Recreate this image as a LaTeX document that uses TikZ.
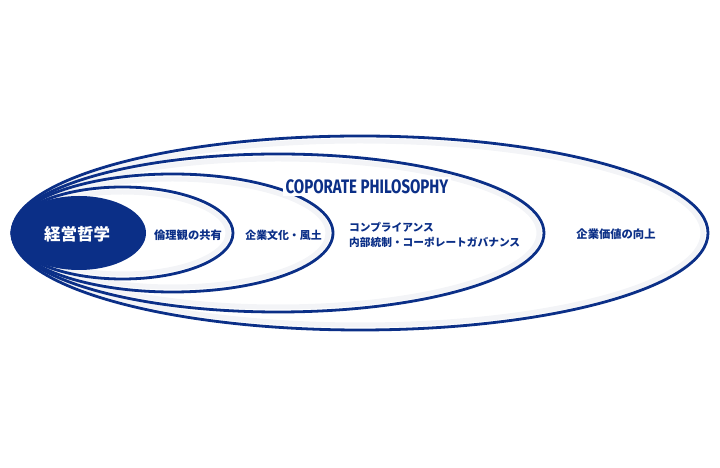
\documentclass[tikz,border=0pt]{standalone}
\usepackage{fontspec}
\newfontfamily\jp{Noto Sans CJK JP}
\newfontfamily\titlefont[FakeStretch=0.77]{Fira Sans}
\usetikzlibrary{calc}
\definecolor{navy}{HTML}{0B2F87}
\definecolor{halo}{HTML}{F3F4F7}
\tikzset{
	ring/.style={draw=navy,line width=2.8pt},
	ringhalo/.style={draw=halo,line width=5pt},
	lbl/.style={text=navy,font=\jp\bfseries\fontsize{11.3}{15}\selectfont,inner sep=0pt}
}
\begin{document}
\begin{tikzpicture}[x=1pt,y=1pt]
					\useasboundingbox (0,0) rectangle (720,468);
					%ANNEAU EXTERIEUR
					\coordinate (O5) at (360,235);
					\draw[ringhalo] (O5) ellipse [x radius=343,y radius=92];
					\draw[ring] (O5) ellipse [x radius=348,y radius=97];
					%ANNEAU 4
					\coordinate (O4) at (278,235);
					\draw[ringhalo] (O4) ellipse [x radius=261,y radius=74];
					\draw[ring] (O4) ellipse [x radius=266,y radius=79];
					%ANNEAU 3
					\coordinate (O3) at (172.5,235);
					\draw[ringhalo] (O3) ellipse [x radius=155.5,y radius=54];
					\draw[ring] (O3) ellipse [x radius=160.5,y radius=59];
					%ANNEAU 2
					\coordinate (O2) at (122.5,235);
					\draw[ringhalo] (O2) ellipse [x radius=105.5,y radius=41];
					\draw[ring] (O2) ellipse [x radius=110.5,y radius=46];
					%COEUR
					\coordinate (O1) at (79,235);
					\fill[navy] (O1) ellipse [x radius=67,y radius=37];
					
					%TEXTES
					\node[text=white,font=\jp\bfseries\fontsize{16.5}{18}\selectfont,inner sep=0pt] (coeur) at (77,233.5) {経営哲学};
					\node[lbl] (ethique) at (188,233) {倫理観の共有};
					\node[lbl,font=\jp\bfseries\fontsize{10.9}{15}\selectfont] (culture) at (283.5,233) {企業文化・風土};
					\node[lbl,font=\jp\bfseries\fontsize{10.7}{15}\selectfont,anchor=west,align=left] (conformite) at (349,233.5) {コンプライアンス\\内部統制・コーポレートガバナンス};
					\node[lbl] (valeur) at (616,234) {企業価値の向上};
					\node[fill=white,text=navy,font=\titlefont\bfseries\fontsize{19.5}{20}\selectfont,inner xsep=3pt,inner ysep=2pt] (titre) at (367,281.5) {COPORATE PHILOSOPHY};
				  \end{tikzpicture}
\end{document}
